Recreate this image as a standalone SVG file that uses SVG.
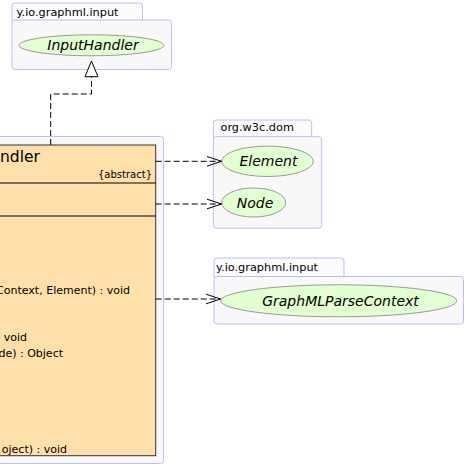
<svg xmlns="http://www.w3.org/2000/svg" width="467" height="467" viewBox="0 0 467 467">
<defs>
<style>
.pkg{fill:#f8f8f8;stroke:#b7c1f5;stroke-width:1}
.tab{fill:#fbfbfb;stroke:#b7c1f5;stroke-width:1}
.ptxt{font-family:"DejaVu Sans",sans-serif;font-size:11.3px;fill:#000}
.ell{fill:#e2ffd2;stroke:#9a9a9a;stroke-width:1}
.etxt{font-family:"DejaVu Sans",sans-serif;font-size:14px;font-style:italic;fill:#000;text-anchor:middle}
.cls{fill:#ffdfaa;stroke:#303040;stroke-width:1}
.ctxt{font-family:"DejaVu Sans",sans-serif;font-size:11px;fill:#000}
.conn{fill:none;stroke:#000;stroke-width:1;stroke-dasharray:6,3}
.head{fill:none;stroke:#000;stroke-width:1}
</style>
<marker id="open" markerWidth="16" markerHeight="12" refX="15" refY="6" orient="auto" markerUnits="userSpaceOnUse">
<path d="M0,1 L15,6 L0,11" class="head"/>
</marker>
</defs>
<g id="pkg-input-top">
<rect class="tab" x="12" y="3" width="130.5" height="22" rx="3"/>
<rect class="pkg" x="12" y="20" width="159.5" height="49.5" rx="3"/>
<text class="ptxt" x="16.5" y="16">y.io.graphml.input</text>
</g>
<g id="InputHandler">
<ellipse class="ell" cx="91.5" cy="45.3" rx="72.5" ry="10.5"/>
<text class="etxt" x="93" y="50">InputHandler</text>
</g>
<g id="pkg-handler">
<rect class="pkg" x="-20" y="136.5" width="183.5" height="327" rx="3"/>
</g>
<g id="Handler">
<rect class="cls" x="-20" y="145" width="175.7" height="310.7"/>
<line x1="-20" y1="183" x2="155.7" y2="183" stroke="#000"/>
<line x1="-20" y1="216" x2="155.7" y2="216" stroke="#000"/>
<text class="ctxt" x="0" y="162" style="font-size:15.5px">ndler</text>
<text class="ctxt" x="152" y="178" style="font-size:10px;text-anchor:end">{abstract}</text>
<text class="ctxt" x="130" y="294" style="text-anchor:end">Context, Element) : void</text>
<text class="ctxt" x="27" y="341" style="text-anchor:end">void</text>
<text class="ctxt" x="63" y="357" style="text-anchor:end">de) : Object</text>
<text class="ctxt" x="67" y="453" style="text-anchor:end">oject) : void</text>
</g>
<g id="pkg-dom">
<rect class="tab" x="213.3" y="120" width="98.4" height="22" rx="3"/>
<rect class="pkg" x="213.3" y="136.7" width="108.4" height="91.5" rx="3"/>
<text class="ptxt" x="220.5" y="131">org.w3c.dom</text>
</g>
<g id="Element">
<ellipse class="ell" cx="267.5" cy="161.3" rx="45.8" ry="15.2"/>
<text class="etxt" x="268.5" y="166">Element</text>
</g>
<g id="Node">
<ellipse class="ell" cx="253.7" cy="202.5" rx="32" ry="14.5"/>
<text class="etxt" x="255" y="208">Node</text>
</g>
<g id="pkg-input-ctx">
<rect class="tab" x="214" y="258" width="130" height="22" rx="3"/>
<rect class="pkg" x="214" y="276.5" width="249.5" height="47.5" rx="3"/>
<text class="ptxt" x="216" y="271">y.io.graphml.input</text>
</g>
<g id="GraphMLParseContext">
<ellipse class="ell" cx="338.7" cy="300.8" rx="118" ry="16"/>
<text class="etxt" x="340.5" y="306">GraphMLParseContext</text>
</g>
<g id="connectors">
<path class="conn" d="M50.7,145 V94 H91.5 V77"/>
<path d="M91.5,61 L85,76.7 L98,76.7 Z" fill="#fff" stroke="#000"/>
<path class="conn" d="M155.7,161.3 H221.5" marker-end="url(#open)"/>
<path class="conn" d="M155.7,204 H221.5" marker-end="url(#open)"/>
<path class="conn" d="M155.7,299 H220.5" marker-end="url(#open)"/>
</g>
</svg>
